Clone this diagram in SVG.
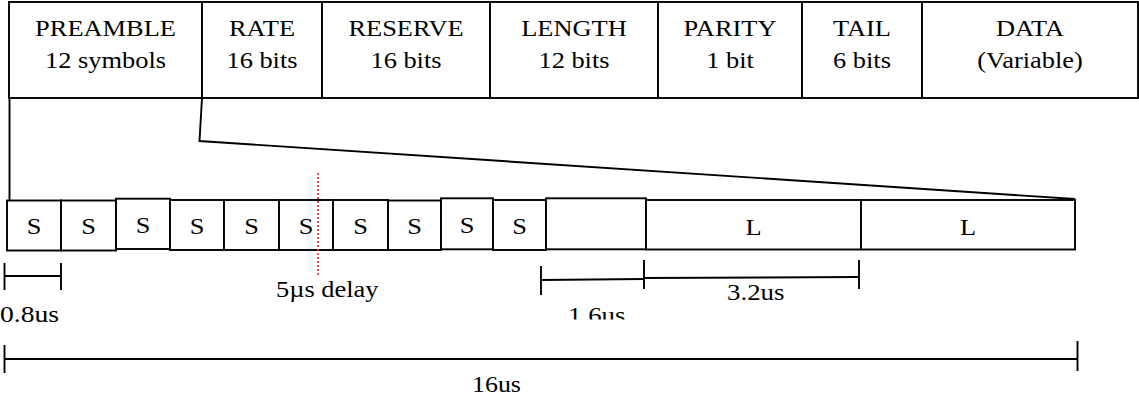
<svg xmlns="http://www.w3.org/2000/svg" width="1139" height="400" viewBox="0 0 1139 400">
  <style>
    .box { fill: #fff; stroke: #000; stroke-width: 1.9; }
    .ln { fill: none; stroke: #000; stroke-width: 1.9; }
    .lbl { font-family: "Liberation Serif", "Times New Roman", serif; font-size: 24px; fill: #000; text-anchor: middle; }
    .dim { font-family: "Liberation Serif", "Times New Roman", serif; font-size: 24px; fill: #000; }
  </style>
  <defs>
    <clipPath id="clip16" clipPathUnits="userSpaceOnUse">
      <rect x="540" y="290" width="120" height="29.5"/>
    </clipPath>
  </defs>
  <rect width="1139" height="400" fill="#fff"/>

  <!-- frame header fields -->
  <g id="header">
    <g id="f-preamble">
      <rect class="box" x="9" y="2" width="193" height="96"/>
      <text class="lbl" transform="translate(105.5,36) scale(1.1,1)">PREAMBLE</text>
      <text class="lbl" transform="translate(105.5,68) scale(1.1,1)">12 symbols</text>
    </g>
    <g id="f-rate">
      <rect class="box" x="202" y="2" width="120" height="96"/>
      <text class="lbl" transform="translate(262,36) scale(1.1,1)">RATE</text>
      <text class="lbl" transform="translate(262,68) scale(1.1,1)">16 bits</text>
    </g>
    <g id="f-reserve">
      <rect class="box" x="322" y="2" width="168" height="96"/>
      <text class="lbl" transform="translate(406,36) scale(1.1,1)">RESERVE</text>
      <text class="lbl" transform="translate(406,68) scale(1.1,1)">16 bits</text>
    </g>
    <g id="f-length">
      <rect class="box" x="490" y="2" width="168" height="96"/>
      <text class="lbl" transform="translate(574,36) scale(1.1,1)">LENGTH</text>
      <text class="lbl" transform="translate(574,68) scale(1.1,1)">12 bits</text>
    </g>
    <g id="f-parity">
      <rect class="box" x="658" y="2" width="144" height="96"/>
      <text class="lbl" transform="translate(730,36) scale(1.1,1)">PARITY</text>
      <text class="lbl" transform="translate(730,68) scale(1.1,1)">1 bit</text>
    </g>
    <g id="f-tail">
      <rect class="box" x="802" y="2" width="120" height="96"/>
      <text class="lbl" transform="translate(862,36) scale(1.1,1)">TAIL</text>
      <text class="lbl" transform="translate(862,68) scale(1.1,1)">6 bits</text>
    </g>
    <g id="f-data">
      <rect class="box" x="922" y="2" width="216" height="96"/>
      <text class="lbl" transform="translate(1030,36) scale(1.1,1)">DATA</text>
      <text class="lbl" transform="translate(1030,68) scale(1.1,1)">(Variable)</text>
    </g>
  </g>

  <!-- expansion lines from the preamble field -->
  <g id="connectors">
    <polyline class="ln" points="202,98 199.5,141 1075,199"/>
    <line class="ln" x1="9.5" y1="98" x2="9.5" y2="200"/>
  </g>

  <!-- preamble symbols -->
  <g id="symbols">
    <g id="s1"><rect class="box" x="7" y="200.5" width="54" height="50"/><text class="lbl" transform="translate(34,234) scale(1.1,1)">S</text></g>
    <g id="s2"><rect class="box" x="61" y="200.5" width="55" height="50"/><text class="lbl" transform="translate(88.5,234) scale(1.1,1)">S</text></g>
    <g id="s3"><rect class="box" x="116" y="198.7" width="54" height="50.3"/><text class="lbl" transform="translate(143,233) scale(1.1,1)">S</text></g>
    <g id="s4"><rect class="box" x="170" y="200" width="54" height="50"/><text class="lbl" transform="translate(197,234) scale(1.1,1)">S</text></g>
    <g id="s5"><rect class="box" x="224" y="200" width="55" height="50"/><text class="lbl" transform="translate(251.5,234) scale(1.1,1)">S</text></g>
    <g id="s6"><rect class="box" x="279" y="200" width="54" height="50"/><text class="lbl" transform="translate(306,234) scale(1.1,1)">S</text></g>
    <g id="s7"><rect class="box" x="333" y="200" width="55" height="50"/><text class="lbl" transform="translate(360.5,234) scale(1.1,1)">S</text></g>
    <g id="s8"><rect class="box" x="388" y="200.5" width="53" height="49.5"/><text class="lbl" transform="translate(414.5,234) scale(1.1,1)">S</text></g>
    <g id="s9"><rect class="box" x="441" y="198.3" width="52" height="51"/><text class="lbl" transform="translate(467,233) scale(1.1,1)">S</text></g>
    <g id="s10"><rect class="box" x="493" y="200" width="53" height="50"/><text class="lbl" transform="translate(519.5,234) scale(1.1,1)">S</text></g>
    <g id="gi"><rect class="box" x="546" y="198.3" width="100" height="51"/></g>
    <g id="l1"><rect class="box" x="646" y="200" width="215" height="49.5"/><text class="lbl" transform="translate(753.5,235) scale(1.1,1)">L</text></g>
    <g id="l2"><rect class="box" x="861" y="200" width="214" height="49.5"/><text class="lbl" transform="translate(968,235) scale(1.1,1)">L</text></g>
  </g>

  <!-- 5us delay marker -->
  <g id="delay">
    <line x1="318" y1="173" x2="318" y2="275" stroke="#ff2020" stroke-width="1.6" stroke-dasharray="2 2"/>
    <text class="dim" transform="translate(276,297) scale(1.1,1)">5µs delay</text>
  </g>

  <!-- timing dimensions -->
  <g id="dimensions">
    <g id="d08">
      <line class="ln" x1="4.5" y1="263" x2="4.5" y2="290"/>
      <line class="ln" x1="4.5" y1="276" x2="61" y2="276"/>
      <line class="ln" x1="61" y1="263" x2="61" y2="290"/>
      <text class="dim" transform="translate(0,322) scale(1.15,1)">0.8us</text>
    </g>
    <g id="d16">
      <line class="ln" x1="541" y1="266" x2="541" y2="295"/>
      <line class="ln" x1="541" y1="280" x2="644" y2="279"/>
      <line class="ln" x1="644" y1="260" x2="644" y2="289"/>
      <g clip-path="url(#clip16)">
        <text class="dim" transform="translate(568,323) scale(1.12,1)">1.6us</text>
      </g>
    </g>
    <g id="d32">
      <line class="ln" x1="644" y1="278" x2="859" y2="277"/>
      <line class="ln" x1="859" y1="260" x2="859" y2="289"/>
      <text class="dim" transform="translate(727,300) scale(1.12,1)">3.2us</text>
    </g>
    <g id="d160">
      <line class="ln" x1="4.5" y1="345" x2="4.5" y2="373"/>
      <line class="ln" x1="4.5" y1="359" x2="1077" y2="359"/>
      <line class="ln" x1="1077.5" y1="341" x2="1077.5" y2="371"/>
      <text class="dim" transform="translate(472,392) scale(1.08,1)">16us</text>
    </g>
  </g>
</svg>
